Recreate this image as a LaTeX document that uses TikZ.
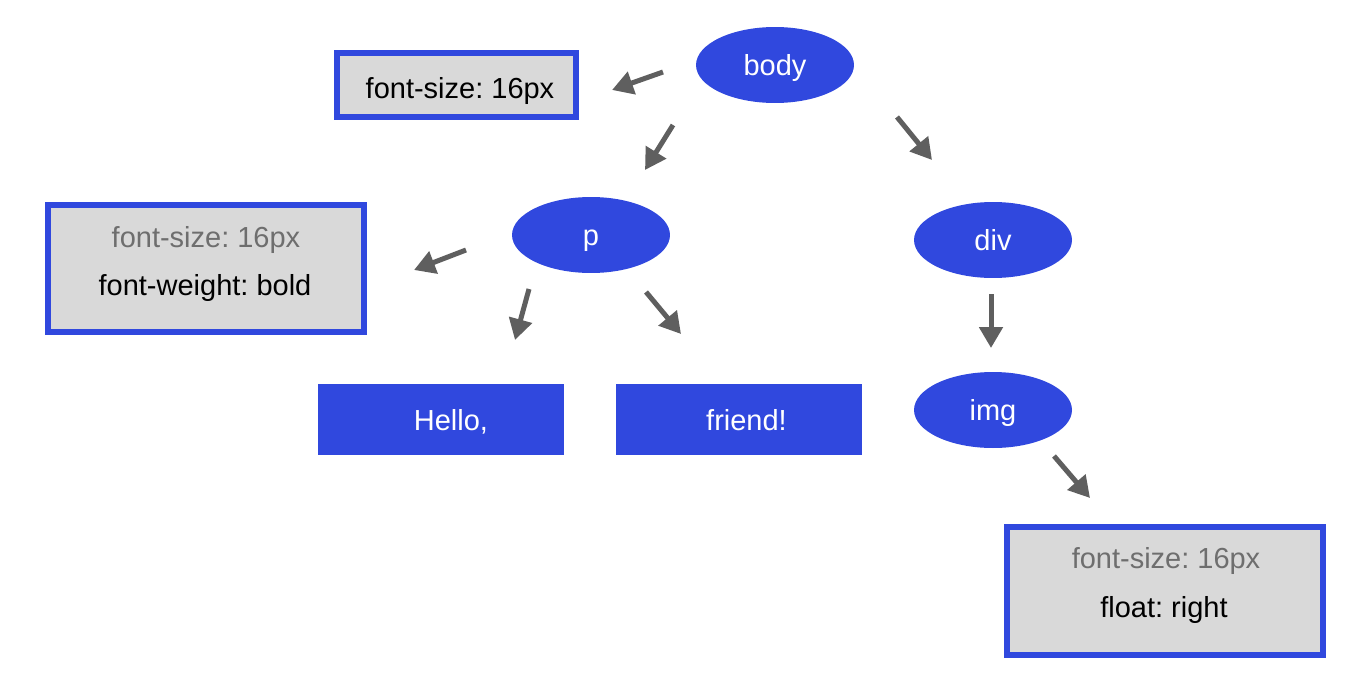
\documentclass[tikz,border=0pt]{standalone}
\usepackage{fontspec}
\setmainfont{Liberation Sans}
\usetikzlibrary{arrows.meta,shapes.geometric}
\definecolor{nodeblue}{RGB}{48,72,222}
\definecolor{boxgray}{RGB}{217,217,217}
\definecolor{arrowgray}{RGB}{95,95,95}
\definecolor{inheritgray}{RGB}{110,110,110}
\frenchspacing
\begin{document}
\frenchspacing
\begin{tikzpicture}[x=0.02cm,y=-0.02cm,
  every node/.style={font=\fontsize{16.5}{20}\selectfont\frenchspacing},
  elem/.style={ellipse, fill=nodeblue, draw=none, minimum width=3.16cm, minimum height=1.52cm, inner sep=0pt, text=white, text height=0.42cm, text depth=0cm},
  txtbox/.style={rectangle, fill=nodeblue, draw=none, minimum width=4.92cm, minimum height=1.42cm, inner sep=0pt, text=white, text height=0.44cm, text depth=0cm},
  propbox/.style={rectangle, fill=boxgray, draw=nodeblue, line width=0.11cm, inner sep=0pt},
  own/.style={anchor=base, text=black, inner sep=0pt},
  inh/.style={anchor=base, text=inheritgray, inner sep=0pt},
  arr/.style={draw=arrowgray, line width=0.1cm, -{Triangle[length=0.42cm,width=0.46cm]}}
]
\useasboundingbox[fill=white] (0,0) rectangle (1368,690);

% element nodes
\node[elem] (body) at (775,65) {body};
\node[elem] (p) at (591,235) {p};
\node[elem] (div) at (993,240) {div};
\node[elem] (img) at (993,410) {img};

% text nodes
\node[txtbox] (hello) at (441,419.5) {\hspace*{0.4cm}Hello,};
\node[txtbox] (friend) at (739,419.5) {\hspace*{0.3cm}friend!};

% property boxes
\node[propbox, minimum width=4.78cm, minimum height=1.28cm] (box1) at (456.5,85) {};
\node[own] (b1t1) at (460,98) {font-size: 16px};

\node[propbox, minimum width=6.32cm, minimum height=2.54cm] (box2) at (206,268.5) {};
\node[inh] (b2t1) at (206,247) {font-size: 16px};
\node[own] (b2t2) at (205,295) {font-weight: bold};

\node[propbox, minimum width=6.32cm, minimum height=2.56cm] (box3) at (1165,591) {};
\node[inh] (b3t1) at (1166,568) {font-size: 16px};
\node[own] (b3t2) at (1164,617) {float: right};

% arrow end points
\coordinate (a1s) at (663,72);   \coordinate (a1e) at (612,90);
\coordinate (a2s) at (673,125);  \coordinate (a2e) at (645,170);
\coordinate (a3s) at (897,117);  \coordinate (a3e) at (932,160);
\coordinate (a4s) at (466,250);  \coordinate (a4e) at (414,270);
\coordinate (a5s) at (529,289);  \coordinate (a5e) at (515,340);
\coordinate (a6s) at (646,292);  \coordinate (a6e) at (681,334);
\coordinate (a7s) at (991,294);  \coordinate (a7e) at (991,348);
\coordinate (a8s) at (1054,456); \coordinate (a8e) at (1090,498);

\draw[arr] (a1s) -- (a1e);
\draw[arr] (a2s) -- (a2e);
\draw[arr] (a3s) -- (a3e);
\draw[arr] (a4s) -- (a4e);
\draw[arr] (a5s) -- (a5e);
\draw[arr] (a6s) -- (a6e);
\draw[arr] (a7s) -- (a7e);
\draw[arr] (a8s) -- (a8e);
\end{tikzpicture}
\end{document}
